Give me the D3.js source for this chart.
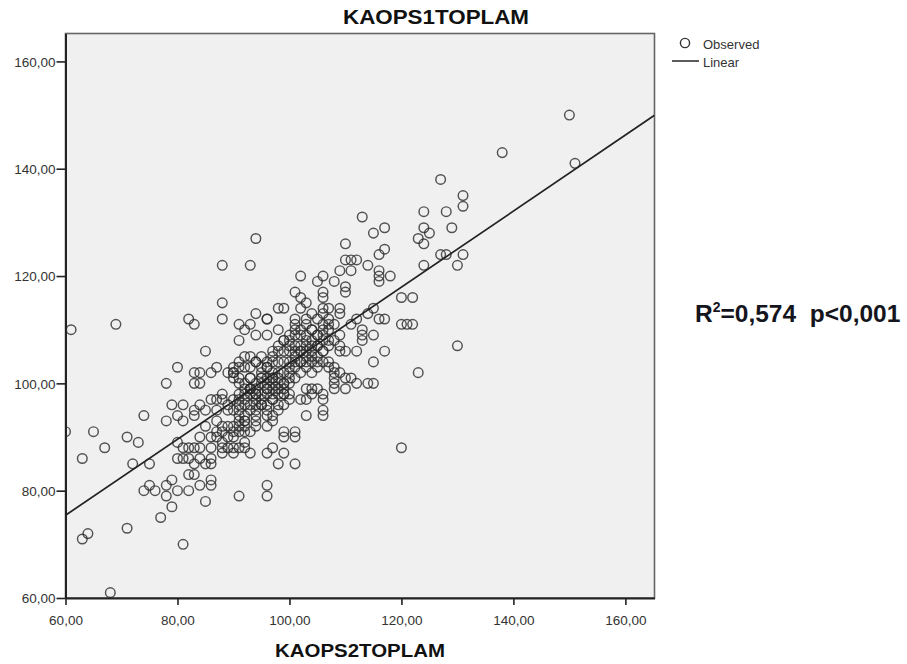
<!DOCTYPE html>
<html>
<head>
<meta charset="utf-8">
<script src="https://cdn.jsdelivr.net/npm/d3@7"></script>
<style>
  body { margin: 0; background: #fff; }
  text { font-family: "Liberation Sans", Arial, sans-serif; }
</style>
</head>
<body>
<div id="chart"></div>
<script>
// KAOPS2TOPLAM (x) and KAOPS1TOPLAM (y)
var kaops2 = [
  150,151,138,127,131,131,124,128,124,129,125,123,124,127,128,131,130,124,
  130,123,120,120,122,120,121,122,117,115,117,115,112,113,111,112,114,115,110,108,108,106,106,106,103,102,103,104,110,110,106,106,115,
  113,115,117,110,117,116,111,110,112,114,116,116,116,118,109,111,102,105,106,108,101,102,99,98,
  112,113,113,114,116,102,104,106,107,109,109,101,103,105,107,96,
  96,98,100,101,103,105,107,108,109,
  97,99,100,102,104,105,107,109,
  96,98,100,101,103,105,107,108,108,
  98,100,103,104,106,
  103,106,107,111,94,96,93,91,92,94,91,85,99,101,
  98,100,102,103,109,110,
  95,97,99,101,103,105,107,108,109,110,
  86,87,89,90,91,93,94,92,95,96,
  91,92,94,96,101,
  86,88,90,92,94,96,98,99,105,
  85,87,89,91,92,94,96,98,99,
  85,87,89,91,92,94,96,97,
  84,86,88,90,92,93,91,93,90,88,
  84,86,84,86,
  99,101,99,101,
  96,98,99,101,97,
  61,69,88,88,82,83,80,
  83,84,90,91,
  83,84,78,79,81,84,83,83,87,88,
  78,80,81,74,65,60,71,73,67,63,72,75,
  80,81,82,83,
  80,81,82,83,85,86,
  82,83,86,86,
  79,78,75,74,76,78,80,82,84,
  79,85,91,77,
  90,92,93,94,
  91,93,94,
  87,88,90,91,92,
  87,89,90,92,
  88,89,90,92,
  63,64,71,81,68,96,96,
  94,88,93,
  95,96,97,95,97,93,95,97,96,98,99,97,95,93,94,100,102,104,104,102,
  106,104,106,106,104,102,100,98,106,105,103,101,99,97,95,93,97,99,101,103,
  91,92,93,94,95,96,97,98,99,100,91,92,93,94,95,96,97,98,99,100,
  101,102,103,104,105,106,100,101,102,103,104,105,106,107,89,90,91,92,93,94,
  90,91,92,93,94,95,96,97,98,99,102,104,106,108,100,97,94,91,88,96
];
var kaops1 = [
  150,141,143,138,135,133,132,132,129,129,128,127,126,124,124,124,122,122,
  107,102,88,116,116,111,111,111,112,109,106,104,106,108,101,100,100,100,99,101,100,97,95,94,94,97,97,99,118,117,117,116,114,
  131,128,129,126,125,124,123,123,123,122,121,120,119,120,121,121,120,119,120,119,117,116,114,114,
  112,110,109,113,112,114,113,114,114,114,113,111,111,112,111,112,
  109,110,109,110,109,109,108,108,109,
  106,106,106,107,106,107,107,106,
  103,104,103,103,103,104,103,102,99,
  101,100,99,98,98,
  112,113,112,111,113,112,111,111,110,109,108,106,108,109,
  107,107,106,107,107,106,
  105,105,104,104,104,103,104,103,102,101,
  102,103,102,102,103,103,104,105,103,104,
  101,99,100,101,101,
  97,97,97,98,97,98,98,98,99,
  95,95,95,95,94,95,94,95,96,
  92,91,92,91,92,93,92,93,
  90,90,89,90,89,91,88,87,87,88,
  88,88,86,85,
  91,91,90,90,
  87,85,87,85,88,
  110,111,115,112,112,111,103,
  102,102,103,104,
  100,100,100,96,96,96,95,94,97,98,
  93,94,93,94,91,91,90,89,88,86,85,85,
  89,88,88,88,
  86,86,86,85,85,86,
  83,83,82,81,
  82,81,81,80,80,79,80,80,81,
  77,78,79,75,
  101,100,101,99,
  96,96,96,
  93,92,92,92,93,
  90,90,91,91,
  87,88,88,88,
  71,72,73,70,61,81,79,
  127,122,122,
  100,100,100,98,99,98,96,97,96,99,100,102,101,99,98,102,102,104,102,104,
  106,108,108,110,110,110,104,106,104,105,105,106,102,101,101,105,104,108,112,115,
  98,97,99,98,97,99,98,100,99,101,94,93,95,94,96,95,97,96,98,97,
  105,104,106,105,107,106,108,107,109,108,110,109,111,110,96,95,97,96,99,98,
  102,100,103,101,104,102,103,101,102,100,106,107,109,111,98,94,92,93,91,99
];

// linear fit as drawn, and its annotation
var fitIntercept = 32.9;
var fitSlope = 0.7086;
var r2Text = "0,574";
var pText = "p<0,001";

var xTicks = [60, 80, 100, 120, 140, 160];
var yTicks = [60, 80, 100, 120, 140, 160];

var w = 907, h = 664;
var plotLeft = 65.5, plotRight = 654.5, plotTop = 33.5, plotBottom = 598;

var svg = d3.select("#chart").append("svg")
    .attr("width", w)
    .attr("height", h);

var x = d3.scaleLinear().domain([60, 165.2]).range([plotLeft, plotRight]);
var y = d3.scaleLinear().domain([60, 165.2]).range([plotBottom, plotTop]);

var fmt = function(d){ return d3.format(".2f")(d).replace(".", ","); };

// plot background and frame
svg.append("rect")
    .attr("x", plotLeft).attr("y", plotTop)
    .attr("width", plotRight - plotLeft).attr("height", plotBottom - plotTop)
    .attr("fill", "#f0f0f0")
    .attr("stroke", "#666")
    .attr("stroke-width", 1.6);

svg.append("clipPath").attr("id", "clip")
  .append("rect")
    .attr("x", plotLeft).attr("y", plotTop)
    .attr("width", plotRight - plotLeft).attr("height", plotBottom - plotTop);

// axes
var xAxis = svg.append("g")
    .attr("transform", "translate(0," + plotBottom + ")")
    .call(d3.axisBottom(x).tickValues(xTicks).tickFormat(fmt).tickSize(7).tickSizeOuter(0));
var yAxis = svg.append("g")
    .attr("transform", "translate(" + plotLeft + ",0)")
    .call(d3.axisLeft(y).tickValues(yTicks).tickFormat(fmt).tickSize(9).tickSizeOuter(0));

[xAxis, yAxis].forEach(function(a){
  a.select(".domain").attr("stroke", "#222").attr("stroke-width", 2);
  a.selectAll(".tick line").attr("stroke", "#222").attr("stroke-width", 1.6);
  a.selectAll(".tick text")
    .attr("fill", "#333")
    .style("font-size", "13.5px")
    .style("font-family", "'Liberation Sans', Arial, sans-serif");
});
xAxis.selectAll(".tick text").attr("dy", "1.25em");
yAxis.selectAll(".tick text").attr("x", -10).attr("dy", "0.36em");

// points
var points = kaops2.map(function(d, i){ return [d, kaops1[i]]; });

svg.append("g")
    .attr("clip-path", "url(#clip)")
  .selectAll("circle")
  .data(points)
  .enter()
  .append("circle")
    .attr("cx", function(d){ return x(d[0]); })
    .attr("cy", function(d){ return y(d[1]); })
    .attr("r", 4.8)
    .attr("fill", "none")
    .attr("stroke", "#2a2a2a")
    .attr("stroke-opacity", 0.8)
    .attr("stroke-width", 1.45);

// fit line
var x0 = 60, x1 = 165.2;
svg.append("line")
    .attr("clip-path", "url(#clip)")
    .attr("x1", x(x0)).attr("y1", y(fitIntercept + fitSlope * x0))
    .attr("x2", x(x1)).attr("y2", y(fitIntercept + fitSlope * x1))
    .attr("stroke", "#222")
    .attr("stroke-width", 1.7);

// titles
svg.append("text")
    .attr("x", 436).attr("y", 24)
    .attr("text-anchor", "middle")
    .attr("textLength", 186)
    .attr("lengthAdjust", "spacingAndGlyphs")
    .style("font-size", "21px")
    .style("font-weight", "bold")
    .attr("fill", "#111")
    .text("KAOPS1TOPLAM");

svg.append("text")
    .attr("x", 360).attr("y", 657)
    .attr("text-anchor", "middle")
    .attr("textLength", 170)
    .attr("lengthAdjust", "spacingAndGlyphs")
    .style("font-size", "19px")
    .style("font-weight", "bold")
    .attr("fill", "#111")
    .text("KAOPS2TOPLAM");

// legend
var lg = svg.append("g");
lg.append("circle")
    .attr("cx", 685).attr("cy", 43).attr("r", 4.6)
    .attr("fill", "none").attr("stroke", "#333").attr("stroke-width", 1.4);
lg.append("text").attr("x", 703).attr("y", 49)
    .style("font-size", "13px").attr("fill", "#333").text("Observed");
lg.append("line")
    .attr("x1", 672).attr("x2", 699).attr("y1", 61).attr("y2", 61)
    .attr("stroke", "#333").attr("stroke-width", 1.6);
lg.append("text").attr("x", 703).attr("y", 67)
    .style("font-size", "13px").attr("fill", "#333").text("Linear");

// R squared annotation
var ann = svg.append("text")
    .attr("x", 695).attr("y", 322)
    .style("font-size", "24.5px")
    .style("font-weight", "bold")
    .attr("fill", "#151520");
ann.append("tspan").text("R");
ann.append("tspan").attr("dy", -10).style("font-size", "14px").text("2");
ann.append("tspan").attr("dy", 10).text("=" + r2Text + "\u00a0\u00a0" + pText);
</script>
</body>
</html>
